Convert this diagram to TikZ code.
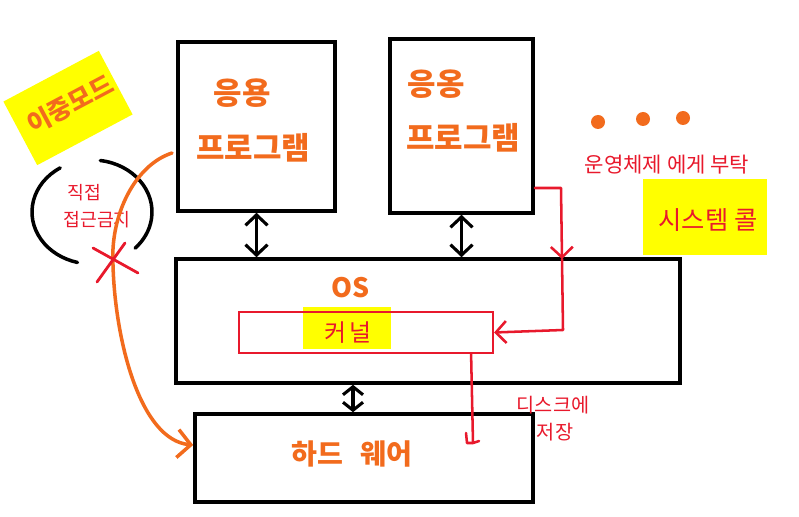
\documentclass[tikz,border=0pt]{standalone}
\usepackage{fontspec}
\setmainfont{Noto Sans CJK KR}
\usetikzlibrary{arrows.meta}
\definecolor{penorange}{HTML}{F26B1D}
\definecolor{penred}{HTML}{E8192C}
\definecolor{hilite}{HTML}{FFFF00}

\begin{document}
\begin{tikzpicture}[x=0.025cm,y=-0.025cm,>={Straight Barb[length=2.6mm,width=5.5mm]},
    box/.style={draw,line width=2.5pt,inner sep=0pt},
    orangetxt/.style={text=penorange,inner sep=1pt},
    redtxt/.style={text=penred,inner sep=1pt},
    redpen/.style={draw=penred,line width=1.8pt,line cap=round,line join=round},
    dbl/.style={<->,line width=2.2pt},
    hl/.style={fill=hilite,inner sep=6pt}]

    \useasboundingbox (0,0) rectangle (799,517);

    % Draw the boxes
    \node[box,minimum width=3.925cm,minimum height=4.225cm] (A1) at (256.5,126.5) {};
    \node[box,minimum width=3.575cm,minimum height=4.35cm] (A2) at (461.5,126) {};
    \node[box,minimum width=12.6cm,minimum height=3.1cm] (OS) at (428,321) {};
    \node[box,minimum width=8.45cm,minimum height=2.2cm] (HW) at (364,458) {};

    % Kernel inside the OS
    \node[hl,minimum width=2.2cm,minimum height=1.05cm,inner sep=0pt] (Kh) at (347,328) {};
    \node[draw=penred,line width=1.5pt,minimum width=6.35cm,minimum height=1.025cm] (K) at (366,332.5) {};
    \node[redtxt,font=\fontsize{17}{20}\selectfont] (Kt) at (348,333) {커\,널};

    % Labels in the boxes
    \node[orangetxt,font=\fontsize{22}{26}\selectfont\bfseries] (A1a) at (242,93) {응용};
    \node[orangetxt,font=\fontsize{22}{26}\selectfont\bfseries] (A1b) at (253,148) {프로그램};
    \node[orangetxt,font=\fontsize{22}{26}\selectfont\bfseries] (A2a) at (436,84) {응옹};
    \node[orangetxt,font=\fontsize{22}{26}\selectfont\bfseries] (A2b) at (463,138) {프로그램};
    \node[orangetxt,font=\fontsize{19}{22}\selectfont\bfseries] (OSt) at (351,288) {OS};
    \node[orangetxt,font=\fontsize{20}{24}\selectfont\bfseries] (HWt) at (352,454) {하드\hspace{0.6em}웨어};

    % Draw double arrows between layers
    \draw[dbl] (A1.south) -- (A1.south |- OS.north);
    \draw[dbl] (A2.south) -- (A2.south |- OS.north);
    \draw[dbl,>={Straight Barb[length=2mm,width=5mm]}] (OS.south -| HW.north) ++(-11,0) coordinate (Q) -- (Q |- HW.north);

    % System call path
    \coordinate (T1) at (561,188);
    \coordinate (SC) at (562,259);
    \coordinate (T2) at (563,330);
    \draw[redpen,->] (A2.east |- T1) -- (T1) -- (SC);
    \draw[redpen,->] (SC) -- (T2) -- (K.east);

    % Kernel writes to disk
    \coordinate (D) at (473,443);
    \draw[redpen] ([xshift=-0.575cm]K.south east) -- (D) -- (479,441);
    \draw[redpen] (466,433) -- (467,443) -- (D);
    \node[redtxt,font=\fontsize{14}{17}\selectfont] (Dt1) at (553,405) {디스크에};
    \node[redtxt,font=\fontsize{14}{17}\selectfont] (Dt2) at (555,432) {저장};

    % More programs
    \foreach \px/\py in {598/122,643/119,683/118}
        \fill[penorange] (\px,\py) circle (7);

    % System call labels
    \node[redtxt,font=\fontsize{15}{18}\selectfont] (Ask) at (667,165) {운영체제 에게 부탁};
    \node[hl,minimum width=3.1cm,minimum height=1.9cm] (Sh) at (705,217) {};
    \node[redtxt,font=\fontsize{18}{22}\selectfont] (Sc) at (708,220) {시스템 콜};

    % Dual mode label
    \node[hl,rotate=28,minimum width=2.7cm,minimum height=1.8cm,inner sep=0pt] (Dh) at (68,108) {};
    \node[orangetxt,rotate=28,font=\fontsize{18}{22}\selectfont\bfseries] (Dm) at (70,104) {이중모드};

    % No direct access
    \draw[line width=2.5pt,line cap=round] (92,212) ++(238:60 and 52) arc (238:104:60 and 52);
    \draw[line width=2.5pt,line cap=round] (92,212) ++(-82:60 and 52) arc (-82:44:60 and 52);
    \node[redtxt,font=\fontsize{13}{16}\selectfont] (Na1) at (84,193) {직접};
    \node[redtxt,font=\fontsize{13}{16}\selectfont] (Na2) at (97,220) {접근금지};

    % Blocked path to hardware
    \coordinate (S) at (172,153);
    \coordinate (M) at (113,265);
    \draw[penorange,line width=2.5pt,line cap=round,-{Straight Barb[length=3.3mm,width=7mm]}]
        (S) .. controls (135,165) and (110,215) .. (M)
        .. controls (115,340) and (140,440) .. (HW.west |- 0,445);
    \draw[penred,line width=2pt,line cap=round] (93,248) -- (138,273);
    \draw[penred,line width=2pt,line cap=round] (125,243) -- (97,282);
\end{tikzpicture}
\end{document}
